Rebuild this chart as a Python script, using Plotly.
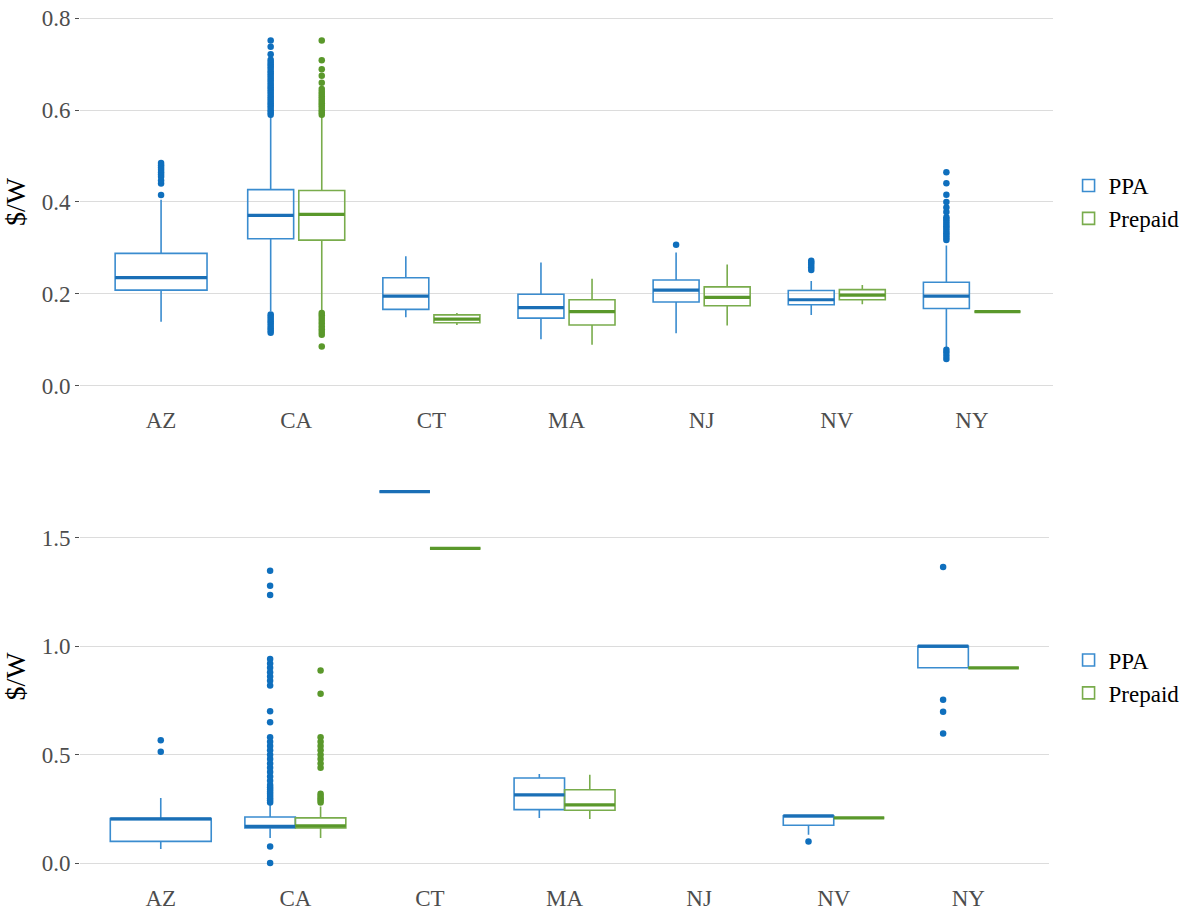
import plotly.graph_objects as go

states = ["AZ", "CA", "CT", "MA", "NJ", "NV", "NY"]

# ---- upper panel: box statistics per state ($/W) ----
top_ppa_lo = [0.139, 0.162, 0.149, 0.101, 0.114, 0.154, 0.082]
top_ppa_q1 = [0.208, 0.320, 0.166, 0.147, 0.182, 0.176, 0.168]
top_ppa_med = [0.235, 0.371, 0.195, 0.170, 0.208, 0.187, 0.195]
top_ppa_q3 = [0.288, 0.427, 0.235, 0.199, 0.230, 0.207, 0.225]
top_ppa_hi = [0.405, 0.585, 0.282, 0.268, 0.290, 0.228, 0.305]
top_ppa_out = [
    [0.415, 0.44, 0.447, 0.455, 0.46, 0.465, 0.47, 0.475, 0.48, 0.485],
    [0.115, 0.12, 0.125, 0.13, 0.135, 0.14, 0.145, 0.15, 0.155,
     0.59, 0.595, 0.60, 0.605, 0.61, 0.615, 0.62, 0.625, 0.63, 0.635, 0.64,
     0.645, 0.65, 0.655, 0.66, 0.665, 0.67, 0.675, 0.68, 0.685, 0.69, 0.695,
     0.70, 0.705, 0.71, 0.722, 0.738, 0.752],
    [],
    [],
    [0.307],
    [0.252, 0.258, 0.263, 0.268, 0.272],
    [0.058, 0.065, 0.072, 0.078,
     0.317, 0.322, 0.327, 0.332, 0.337, 0.342, 0.347, 0.352, 0.357, 0.362,
     0.367, 0.378, 0.388, 0.40, 0.416, 0.441, 0.465],
]

top_pre_lo = [None, 0.160, 0.132, 0.089, 0.131, 0.177, 0.161]
top_pre_q1 = [None, 0.317, 0.137, 0.132, 0.174, 0.187, 0.161]
top_pre_med = [None, 0.373, 0.145, 0.161, 0.192, 0.197, 0.161]
top_pre_q3 = [None, 0.425, 0.154, 0.187, 0.215, 0.209, 0.161]
top_pre_hi = [None, 0.585, 0.158, 0.233, 0.264, 0.219, 0.161]
top_pre_out = [
    [],
    [0.085, 0.111, 0.117, 0.123, 0.129, 0.135, 0.141, 0.147, 0.153, 0.158,
     0.59, 0.595, 0.60, 0.605, 0.61, 0.615, 0.62, 0.625, 0.63, 0.635, 0.64,
     0.646, 0.66, 0.675, 0.689, 0.709, 0.752],
    [],
    [],
    [],
    [],
    [],
]

# ---- lower panel: box statistics per state ($/W) ----
bot_ppa_lo = [0.066, 0.117, 1.711, 0.209, None, 0.132, 0.900]
bot_ppa_q1 = [0.101, 0.163, 1.711, 0.247, None, 0.175, 0.900]
bot_ppa_med = [0.205, 0.170, 1.711, 0.315, None, 0.218, 1.000]
bot_ppa_q3 = [0.206, 0.213, 1.711, 0.393, None, 0.219, 1.000]
bot_ppa_hi = [0.301, 0.275, 1.711, 0.411, None, 0.219, 1.000]
bot_ppa_out = [
    [0.514, 0.566],
    [0.002, 0.078, 0.28, 0.29, 0.30, 0.31, 0.32, 0.33, 0.34, 0.35, 0.36,
     0.38, 0.40, 0.42, 0.44, 0.46, 0.48, 0.50, 0.52, 0.54, 0.56, 0.58,
     0.649, 0.70, 0.818, 0.84, 0.86, 0.88, 0.90, 0.92, 0.94, 1.235, 1.278,
     1.347],
    [],
    [],
    [],
    [0.101],
    [0.598, 0.698, 0.753, 1.364],
]

bot_pre_lo = [None, 0.117, 1.450, 0.204, None, 0.209, 0.900]
bot_pre_q1 = [None, 0.163, 1.450, 0.244, None, 0.209, 0.900]
bot_pre_med = [None, 0.173, 1.450, 0.269, None, 0.209, 0.900]
bot_pre_q3 = [None, 0.209, 1.450, 0.339, None, 0.209, 0.900]
bot_pre_hi = [None, 0.262, 1.450, 0.408, None, 0.209, 0.900]
bot_pre_out = [
    [],
    [0.28, 0.29, 0.30, 0.31, 0.32, 0.44, 0.46, 0.48, 0.50, 0.52, 0.54, 0.56,
     0.58, 0.78, 0.888],
    [],
    [],
    [],
    [],
    [],
]

BLUE_DOT = "#0F6FBD"
BLUE_LINE = "#3A8CCF"
BLUE_MED = "#1A6FB6"
GREEN_DOT = "#5A982B"
GREEN_LINE = "#79AC4C"
GREEN_MED = "#5A982B"
FONT = "Liberation Serif"


def series(lo, q1, med, q3, hi, out):
    return dict(lo=lo, q1=q1, med=med, q3=q3, hi=hi, out=out)


def add_panel(fig, xa, ya, legend_id, ppa, pre, pair_w, single_w, offset):
    specs = [
        ("PPA", ppa, pre, -1, BLUE_LINE, BLUE_MED, BLUE_DOT),
        ("Prepaid", pre, ppa, 1, GREEN_LINE, GREEN_MED, GREEN_DOT),
    ]
    for name, s, other, sign, line_c, med_c, dot_c in specs:
        groups = {}
        for i in range(len(states)):
            if s["med"][i] is None:
                continue
            both = other["med"][i] is not None
            x = i + sign * offset if both else i
            w = pair_w if both else single_w
            groups.setdefault(w, []).append((x, i))
        first = True
        for w, items in groups.items():
            xs = [x for x, _ in items]
            idx = [i for _, i in items]
            fig.add_trace(go.Box(
                x=xs,
                q1=[s["q1"][i] for i in idx],
                median=[s["med"][i] for i in idx],
                q3=[s["q3"][i] for i in idx],
                lowerfence=[s["lo"][i] for i in idx],
                upperfence=[s["hi"][i] for i in idx],
                width=w, boxpoints=False, whiskerwidth=0,
                line=dict(color=line_c, width=1.6),
                fillcolor="rgba(255,255,255,0)",
                name=name, legendgroup=name + legend_id,
                showlegend=first, legend=legend_id,
                xaxis=xa, yaxis=ya, hoverinfo="skip",
            ))
            first = False
            # heavier median bar on top of each box
            mx, my = [], []
            for x, i in items:
                mx += [x - w / 2, x + w / 2, None]
                my += [s["med"][i], s["med"][i], None]
            fig.add_trace(go.Scatter(
                x=mx, y=my, mode="lines",
                line=dict(color=med_c, width=3.2),
                showlegend=False, legend=legend_id,
                xaxis=xa, yaxis=ya, hoverinfo="skip",
            ))
        # outlying observations
        ox, oy = [], []
        for i in range(len(states)):
            if s["med"][i] is None:
                continue
            both = other["med"][i] is not None
            x = i + sign * offset if both else i
            ox += [x] * len(s["out"][i])
            oy += list(s["out"][i])
        fig.add_trace(go.Scatter(
            x=ox, y=oy, mode="markers",
            marker=dict(color=dot_c, size=6.5, line=dict(width=0)),
            showlegend=False, legend=legend_id,
            xaxis=xa, yaxis=ya, hoverinfo="skip",
        ))


fig = go.Figure()
add_panel(fig, "x", "y", "legend",
          series(top_ppa_lo, top_ppa_q1, top_ppa_med, top_ppa_q3, top_ppa_hi, top_ppa_out),
          series(top_pre_lo, top_pre_q1, top_pre_med, top_pre_q3, top_pre_hi, top_pre_out),
          pair_w=0.34, single_w=0.68, offset=0.189)
add_panel(fig, "x2", "y2", "legend2",
          series(bot_ppa_lo, bot_ppa_q1, bot_ppa_med, bot_ppa_q3, bot_ppa_hi, bot_ppa_out),
          series(bot_pre_lo, bot_pre_q1, bot_pre_med, bot_pre_q3, bot_pre_hi, bot_pre_out),
          pair_w=0.375, single_w=0.75, offset=0.1875)


def tick_font():
    return dict(family=FONT, size=23, color="#4D4D4D")


def x_axis(domain, anchor):
    return dict(domain=domain, anchor=anchor, tickmode="array",
                tickvals=list(range(len(states))), ticktext=states,
                range=[-0.6, len(states) - 0.4], showgrid=False, zeroline=False,
                showline=False, ticks="", tickfont=tick_font(), automargin=False)


def y_axis(domain, anchor, rng, vals):
    return dict(domain=domain, anchor=anchor, range=rng, tickvals=vals,
                showgrid=True, gridcolor="#DCDCDC", gridwidth=1, zeroline=False,
                showline=False, ticks="outside", ticklen=4, tickcolor="#4D4D4D",
                tickwidth=1, tickformat=".1f", tickfont=tick_font(), automargin=False,
                title=dict(text="$/W", standoff=8,
                           font=dict(family=FONT, size=28, color="black")))


def legend_box(y):
    return dict(x=1.016, y=y, xanchor="left", yanchor="middle",
                font=dict(family=FONT, size=23, color="black"),
                bgcolor="rgba(0,0,0,0)", tracegroupgap=0, itemwidth=30)


fig.update_layout(
    template="none",
    width=1190, height=911,
    margin=dict(l=80, r=137, t=0, b=29),
    paper_bgcolor="white", plot_bgcolor="white",
    font=dict(family=FONT, color="black"),
    xaxis=x_axis([0, 1], "y"),
    xaxis2=x_axis([0, 0.996], "y2"),
    yaxis=y_axis([0.542, 1], "x", [-0.04, 0.84], [0, 0.2, 0.4, 0.6, 0.8]),
    yaxis2=y_axis([0, 0.466], "x2", [-0.086, 1.806], [0, 0.5, 1.0, 1.5]),
    legend=legend_box(0.771),
    legend2=legend_box(0.233),
    showlegend=True,
)

fig.write_html("out.html")
